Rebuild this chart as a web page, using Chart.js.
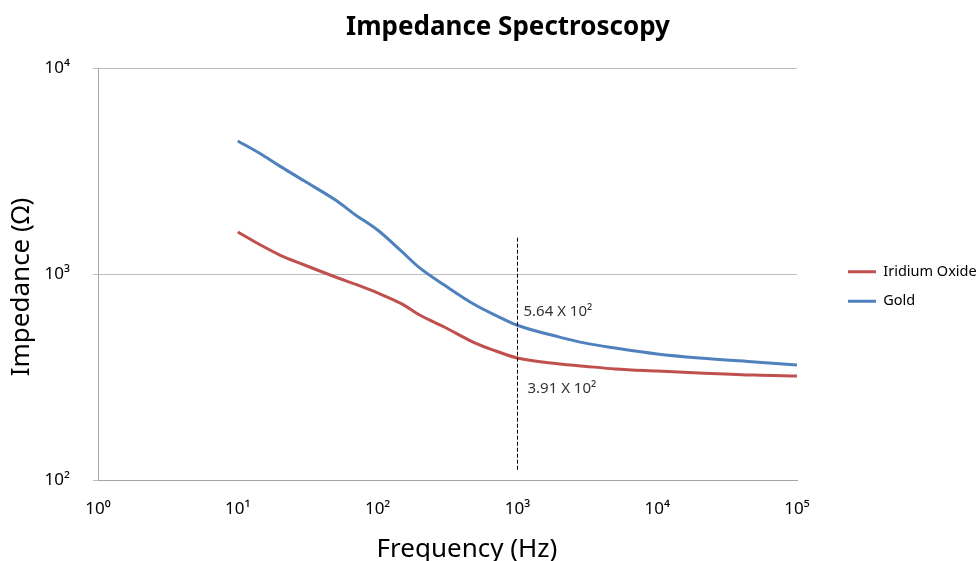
<!DOCTYPE html>
<html>
<head>
<meta charset="utf-8">
<title>Impedance Spectroscopy</title>
<script src="https://cdn.jsdelivr.net/npm/chart.js@4.4.1/dist/chart.umd.min.js"></script>
<style>
  html, body { margin: 0; padding: 0; background: #fff; }
  #wrap { width: 978px; height: 561px; }
</style>
</head>
<body>
<div id="wrap"><canvas id="impChart" width="978" height="561"></canvas></div>
<script>
// ---- DATA ----
const frequency = [10, 15, 20, 30, 50, 70, 100, 150, 200, 300, 500, 700, 1000, 2000, 3000, 5000, 10000, 20000, 50000, 100000];
const iridiumOxide = [1600, 1367, 1236, 1106, 967, 890, 809, 714, 632, 553, 462, 423, 391, 366, 357, 346, 338, 331, 323, 320];
const gold = [4425, 3785, 3340, 2825, 2285, 1930, 1635, 1280, 1070, 884, 707, 630, 564, 494, 463, 437, 409, 391, 374, 362];
const xTicks = [1, 10, 100, 1000, 10000, 100000];
const yTicks = [100, 1000, 10000];
const markerFreq = 1000;
const markerRange = [112, 1500];
const markerLabels = ["5.64 X 10\u00B2", "3.91 X 10\u00B2"];
const chartTitle = "Impedance Spectroscopy";
const xTitle = "Frequency (Hz)";
const yTitle = "Impedance (\u03A9)";

const SUP = { "0": "\u2070", "1": "\u00B9", "2": "\u00B2", "3": "\u00B3", "4": "\u2074", "5": "\u2075" };
function powLabel(v) {
  const e = Math.round(Math.log10(v));
  return "10" + SUP[String(e)];
}

function toPoints(ys) {
  return frequency.map((f, i) => ({ x: f, y: ys[i] }));
}

const FONT = "'Noto Sans', 'DejaVu Sans', sans-serif";

// dashed marker line at 1 kHz plus the two value notes
const markerPlugin = {
  id: "marker",
  afterDatasetsDraw(chart) {
    const ctx = chart.ctx;
    const xs = chart.scales.x, ys = chart.scales.y;
    const px = Math.round(xs.getPixelForValue(markerFreq)) + 0.5;
    ctx.save();
    ctx.strokeStyle = "#000";
    ctx.lineWidth = 1;
    ctx.setLineDash([4, 2]);
    ctx.beginPath();
    ctx.moveTo(px, ys.getPixelForValue(markerRange[1]));
    ctx.lineTo(px, ys.getPixelForValue(markerRange[0]));
    ctx.stroke();
    ctx.setLineDash([]);

    const idx = frequency.indexOf(markerFreq);
    ctx.fillStyle = "#333";
    ctx.font = "15px " + FONT;
    ctx.textBaseline = "middle";
    ctx.textAlign = "left";
    ctx.fillText(markerLabels[0], px + 6, ys.getPixelForValue(gold[idx]) - 14);
    ctx.fillText(markerLabels[1], px + 10, ys.getPixelForValue(iridiumOxide[idx]) + 31);
    ctx.restore();
  }
};

// chart title and axis titles, placed like the original
const titlesPlugin = {
  id: "titles",
  afterLayout(chart) {
    // move the legend to where the original has it
    chart.legend.left += 36;
    chart.legend.right += 36;
    chart.legend.top -= 28;
    chart.legend.bottom -= 28;
  },
  afterDraw(chart) {
    const ctx = chart.ctx;
    ctx.save();
    ctx.fillStyle = "#000";
    ctx.textAlign = "center";
    ctx.textBaseline = "middle";
    ctx.font = "bold 26px " + FONT;
    ctx.fillText(chartTitle, 508, 28);

    ctx.font = "26px " + FONT;
    ctx.textBaseline = "alphabetic";
    ctx.fillText(xTitle, 467, 557);

    ctx.translate(22, 287);
    ctx.rotate(-Math.PI / 2);
    ctx.textBaseline = "middle";
    ctx.fillText(yTitle, 0, 0);
    ctx.restore();
  }
};

new Chart(document.getElementById("impChart"), {
  type: "line",
  data: {
    datasets: [
      {
        label: "Iridium Oxide",
        data: toPoints(iridiumOxide),
        borderColor: "#C0504D",
        backgroundColor: "#C0504D",
        borderWidth: 3,
        pointRadius: 0,
        cubicInterpolationMode: "monotone"
      },
      {
        label: "Gold",
        data: toPoints(gold),
        borderColor: "#4F81BD",
        backgroundColor: "#4F81BD",
        borderWidth: 3,
        pointRadius: 0,
        cubicInterpolationMode: "monotone"
      }
    ]
  },
  options: {
    responsive: false,
    animation: false,
    layout: { padding: { top: 68, right: 0, bottom: 0, left: 0 } },
    plugins: {
      title: { display: false },
      legend: {
        position: "right",
        align: "center",
        labels: {
          usePointStyle: true,
          pointStyle: "line",
          pointStyleWidth: 28,
          color: "#000",
          padding: 15,
          font: { family: FONT, size: 14.5 }
        }
      },
      tooltip: { enabled: false }
    },
    scales: {
      x: {
        type: "logarithmic",
        min: 1,
        max: 100000,
        afterBuildTicks: s => { s.ticks = xTicks.map(v => ({ value: v })); },
        afterFit: s => { s.height = 81; s.paddingRight = 181; },
        ticks: {
          callback: v => powLabel(v),
          color: "#000",
          padding: 11,
          maxRotation: 0,
          font: { family: FONT, size: 17 }
        },
        grid: { display: false },
        border: { display: true, color: "#A6A6A6", width: 1 },
        title: { display: false }
      },
      y: {
        type: "logarithmic",
        min: 100,
        max: 10000,
        afterBuildTicks: s => { s.ticks = yTicks.map(v => ({ value: v })); },
        afterFit: s => { s.width = 98; },
        ticks: {
          callback: v => powLabel(v),
          color: "#000",
          padding: 23,
          font: { family: FONT, size: 17 }
        },
        grid: { color: "#BFBFBF", tickLength: 5, tickColor: "#BFBFBF" },
        border: { display: true, color: "#A6A6A6", width: 1 },
        title: { display: false }
      }
    }
  },
  plugins: [markerPlugin, titlesPlugin]
});
</script>
</body>
</html>
